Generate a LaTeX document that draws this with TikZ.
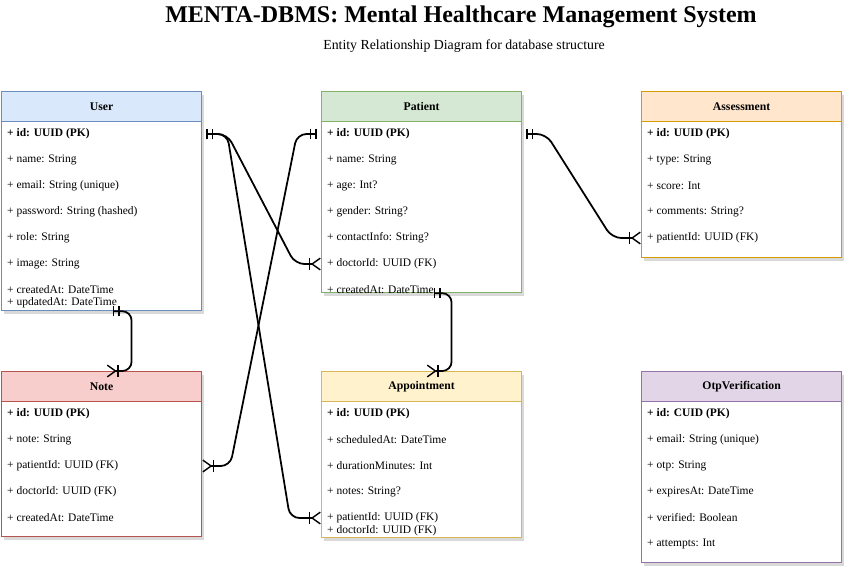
\documentclass[tikz,border=0pt]{standalone}
\usepackage{fontspec}
\setmainfont{Liberation Serif}
\usetikzlibrary{arrows.meta,shadows,calc}

\definecolor{userfill}{HTML}{DAE8FC}
\definecolor{userline}{HTML}{6C8EBF}
\definecolor{patientfill}{HTML}{D5E8D4}
\definecolor{patientline}{HTML}{82B366}
\definecolor{assessfill}{HTML}{FFE6CC}
\definecolor{assessline}{HTML}{D79B00}
\definecolor{notefill}{HTML}{F8CECC}
\definecolor{noteline}{HTML}{B85450}
\definecolor{apptfill}{HTML}{FFF2CC}
\definecolor{apptline}{HTML}{D6B656}
\definecolor{otpfill}{HTML}{E1D5E7}
\definecolor{otpline}{HTML}{9673A6}

\begin{document}
\begin{tikzpicture}[x=0.03cm,y=-0.03cm,
  every node/.style={font=\fontsize{9.8}{12}\selectfont},
  box/.style={draw=#1, fill=white, line width=1pt, anchor=north west, minimum width=6cm,
    inner sep=0pt, drop shadow={shadow xshift=2pt, shadow yshift=-2.5pt, opacity=0.3}},
  head/.style 2 args={draw=#1, fill=#2, line width=1pt, anchor=north west, minimum width=6cm,
    minimum height=0.9cm, inner sep=0pt, font=\fontsize{10}{12}\selectfont\bfseries},
  field/.style={anchor=west, inner sep=0pt},
  key/.style={field, font=\fontsize{9.8}{12}\selectfont\bfseries},
  rel/.style={line width=1.5pt, rounded corners=8pt,
    {Bar[width=9pt,line width=1.2pt,sep=3.5pt]Bar[width=9pt,line width=1.2pt,sep=3.5pt]}-{Bar[width=10pt,line width=1.2pt,sep=0.5pt]Straight Barb[reversed,width=10pt,length=7pt,line width=1.2pt]}}]
\useasboundingbox (0,0) rectangle (852,576);

% title
\node[font=\fontsize{20.5}{24}\selectfont\bfseries] (title) at (461,17) {MENTA-DBMS: Mental Healthcare Management System};
\node[font=\fontsize{11.8}{14}\selectfont] (subtitle) at (464,46) {Entity Relationship Diagram for database structure};

% User
\node[box=userline, minimum height=6.57cm] (user) at (1,91) {};
\node[head={userline}{userfill}] (user-head) at (user.north west) {User};
\node[key] (user-id) at (7,134) {+ id: UUID (PK)};
\node[field] (user-name) at (7,160) {+ name: String};
\node[field] (user-email) at (7,186) {+ email: String (unique)};
\node[field] (user-pass) at (7,212) {+ password: String (hashed)};
\node[field] (user-role) at (7,238) {+ role: String};
\node[field] (user-image) at (7,264) {+ image: String};
\node[field] (user-created) at (7,290) {+ createdAt: DateTime};
\node[field] (user-updated) at (7,303) {+ updatedAt: DateTime};

% Patient
\node[box=patientline, minimum height=6.03cm] (patient) at (321,91) {};
\node[head={patientline}{patientfill}] (patient-head) at (patient.north west) {Patient};
\node[key] (patient-id) at (327,134) {+ id: UUID (PK)};
\node[field] (patient-name) at (327,160) {+ name: String};
\node[field] (patient-age) at (327,186) {+ age: Int?};
\node[field] (patient-gender) at (327,212) {+ gender: String?};
\node[field] (patient-contact) at (327,238) {+ contactInfo: String?};
\node[field] (patient-doctor) at (327,264) {+ doctorId: UUID (FK)};
\node[field] (patient-created) at (327,290) {+ createdAt: DateTime};

% Assessment
\node[box=assessline, minimum height=4.98cm] (assess) at (641,91) {};
\node[head={assessline}{assessfill}] (assess-head) at (assess.north west) {Assessment};
\node[key] (assess-id) at (647,134) {+ id: UUID (PK)};
\node[field] (assess-type) at (647,160) {+ type: String};
\node[field] (assess-score) at (647,186) {+ score: Int};
\node[field] (assess-comments) at (647,212) {+ comments: String?};
\node[field] (assess-patient) at (647,238) {+ patientId: UUID (FK)};

% Note
\node[box=noteline, minimum height=4.95cm] (note) at (1,371) {};
\node[head={noteline}{notefill}] (note-head) at (note.north west) {Note};
\node[key] (note-id) at (7,414) {+ id: UUID (PK)};
\node[field] (note-text) at (7,440) {+ note: String};
\node[field] (note-patient) at (7,466) {+ patientId: UUID (FK)};
\node[field] (note-doctor) at (7,492) {+ doctorId: UUID (FK)};
\node[field] (note-created) at (7,518) {+ createdAt: DateTime};

% Appointment
\node[box=apptline, minimum height=4.98cm] (appt) at (321,371) {};
\node[head={apptline}{apptfill}] (appt-head) at (appt.north west) {Appointment};
\node[key] (appt-id) at (327,414) {+ id: UUID (PK)};
\node[field] (appt-scheduled) at (327,440) {+ scheduledAt: DateTime};
\node[field] (appt-duration) at (327,466) {+ durationMinutes: Int};
\node[field] (appt-notes) at (327,492) {+ notes: String?};
\node[field] (appt-patient) at (327,518) {+ patientId: UUID (FK)};
\node[field] (appt-doctor) at (327,531) {+ doctorId: UUID (FK)};

% OtpVerification
\node[box=otpline, minimum height=5.73cm] (otp) at (641,371) {};
\node[head={otpline}{otpfill}] (otp-head) at (otp.north west) {OtpVerification};
\node[key] (otp-id) at (647,414) {+ id: CUID (PK)};
\node[field] (otp-email) at (647,440) {+ email: String (unique)};
\node[field] (otp-code) at (647,466) {+ otp: String};
\node[field] (otp-expires) at (647,492) {+ expiresAt: DateTime};
\node[field] (otp-verified) at (647,518) {+ verified: Boolean};
\node[field] (otp-attempts) at (647,544) {+ attempts: Int};

% relations
\draw[rel] (user-id -| user.east) -- ++(25,0) -- ($(patient-doctor -| patient.west)+(-26,0)$) -- (patient-doctor -| patient.west);
\draw[rel] (user-id -| user.east) -- ++(25,0) -- ($(appt-patient -| appt.west)+(-31,0)$) -- (appt-patient -| appt.west);
\draw[rel] (patient-id -| patient.west) -- ++(-24,0) -- ($(note-patient -| note.east)+(28,0)$) -- (note-patient -| note.east);
\draw[rel] (patient-id -| patient.east) -- ++(24,0) -- ($(assess-patient -| assess.west)+(-29,0)$) -- (assess-patient -| assess.west);
\draw[rel] ($(user.south)+(7,0)$) -- ++(23,0) -- ($(note.north)+(30,0)$) -- ($(note.north)+(5,0)$);
\draw[rel] ($(patient.south)+(8,0)$) -- ++(22,0) -- ($(appt.north)+(30,0)$) -- ($(appt.north)+(5,0)$);
\end{tikzpicture}
\end{document}
